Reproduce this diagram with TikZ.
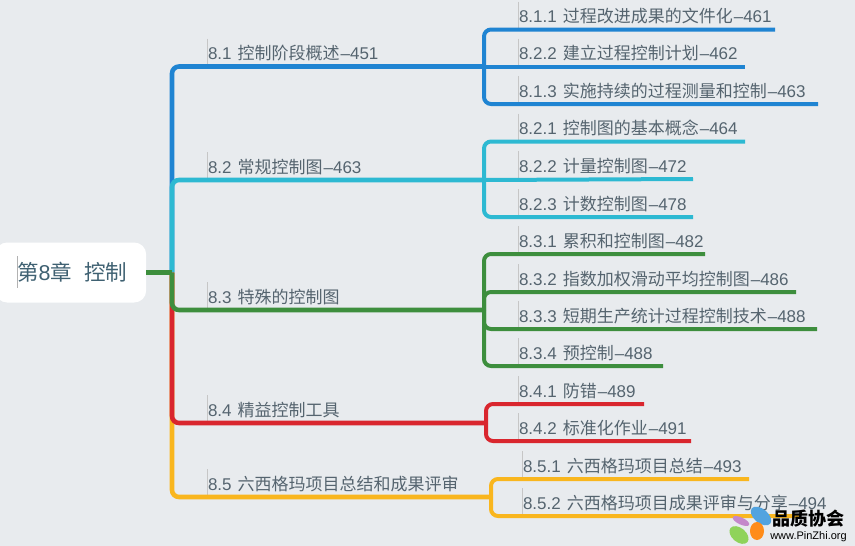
\documentclass[tikz,border=0pt]{standalone}
\usepackage{fontspec}
\setmainfont{Noto Sans CJK SC}
\newfontfamily\enf{Liberation Sans}
\newcommand{\secno}[1]{{\enf #1}\kern6pt}
\newcommand{\pg}[1]{{\enf\kern1pt–#1}}
\usepackage[dvipsnames]{xcolor}
\usetikzlibrary{positioning,calc}
\definecolor{bgc}{HTML}{E8EBEE}
\definecolor{txtc}{HTML}{55646F}
\definecolor{rootc}{HTML}{3F6172}
\definecolor{cblue}{HTML}{1F84D2}
\definecolor{ccyan}{HTML}{2DB9D2}
\definecolor{cgreen}{HTML}{3D8E3D}
\definecolor{cred}{HTML}{D9262E}
\definecolor{cyel}{HTML}{F9B61E}
\tikzset{lab/.style={anchor=south west, inner xsep=1pt, inner ysep=3pt, outer sep=0pt, text height=18pt, text depth=4pt, align=left, text=txtc, font=\fontsize{17}{18}\selectfont, append after command={(\tikzlastnode.north west) edge[draw=gray!45, line width=0.5pt] (\tikzlastnode.south west)}}}
\tikzset{rootbox/.style={anchor=west, fill=white, rounded corners=12, minimum width=151pt, minimum height=60pt, inner sep=0pt, text width=129pt, align=left, text=rootc, font=\fontsize{21.5}{24}\selectfont}}
\tikzset{arr/.style={draw, line width=4.6pt, rounded corners=7pt}}
\tikzset{arr2/.style={draw, line width=4pt, rounded corners=7pt}}
\begin{document}
\begin{tikzpicture}[x=1pt, y=-1pt]
	\clip (0,0) rectangle (855,546);
	\fill[bgc] (0,0) rectangle (855,546);
	\node[rootbox] (root) at (-5,272.5) {\hspace*{11pt}第{\enf 8}章\kern12pt控制};
	\coordinate (hub) at (172,272.5);
	% main branches
	\node[lab, text width=275pt] (n81) at (207,66.5) {\secno{8.1}控制阶段概述\pg{451}};
	\node[lab, text width=275pt] (n82) at (207,180) {\secno{8.2}常规控制图\pg{463}};
	\node[lab, text width=275pt] (n83) at (207,310) {\secno{8.3}特殊的控制图};
	\node[lab, text width=277pt] (n84) at (207,423) {\secno{8.4}精益控制工具};
	\node[lab, text width=282pt] (n85) at (207,497) {\secno{8.5}六西格玛项目总结和成果评审};
	% sub items
	\node[lab, text width=255pt] (n811) at (518,29.5) {\secno{8.1.1}过程改进成果的文件化\pg{461}};
	\node[lab, text width=225pt] (n812) at (518,66.5) {\secno{8.2.2}建立过程控制计划\pg{462}};
	\node[lab, text width=298pt] (n813) at (518,104) {\secno{8.1.3}实施持续的过程测量和控制\pg{463}};
	\node[lab, text width=225pt] (n821) at (518,141.5) {\secno{8.2.1}控制图的基本概念\pg{464}};
	\node[lab, text width=173pt] (n822) at (518,179) {\secno{8.2.2}计量控制图\pg{472}};
	\node[lab, text width=173pt] (n823) at (518,217) {\secno{8.2.3}计数控制图\pg{478}};
	\node[lab, text width=185pt] (n831) at (518,254) {\secno{8.3.1}累积和控制图\pg{482}};
	\node[lab, text width=276pt] (n832) at (518,292) {\secno{8.3.2}指数加权滑动平均控制图\pg{486}};
	\node[lab, text width=297pt] (n833) at (518,329) {\secno{8.3.3}短期生产统计过程控制技术\pg{488}};
	\node[lab, text width=143pt] (n834) at (518,366) {\secno{8.3.4}预控制\pg{488}};
	\node[lab, text width=124pt] (n841) at (518,404) {\secno{8.4.1}防错\pg{489}};
	\node[lab, text width=171pt] (n842) at (518,441) {\secno{8.4.2}标准化作业\pg{491}};
	\node[lab, text width=225pt] (n851) at (522,479) {\secno{8.5.1}六西格玛项目总结\pg{493}};
	\node[lab, text width=310pt] (n852) at (522,516) {\secno{8.5.2}六西格玛项目成果评审与分享\pg{494}};
	\coordinate (n852end) at (800,516);
	% blue
	\draw[arr, cblue] (hub) |- (n81.south east);
	\draw[arr2, cblue] (n81.south east) |- (n811.south east);
	\draw[arr2, cblue] (n81.south east) -- (n812.south east);
	\draw[arr2, cblue] (n81.south east) |- (n813.south east);
	% cyan
	\draw[arr, ccyan] (hub) |- (n82.south east);
	\draw[arr2, ccyan] (n82.south east) |- (n821.south east);
	\draw[arr2, ccyan] (n82.south east) -- (n822.south east);
	\draw[arr2, ccyan] (n82.south east) |- (n823.south east);
	% yellow
	\draw[arr, cyel] (hub) |- (n85.south east);
	\draw[arr2, cyel] (n85.south east) |- (n851.south east);
	\draw[arr2, cyel] (n85.south east) |- (n852end);
	% red
	\draw[arr, cred] (hub) |- (n84.south east);
	\draw[arr2, cred] (n84.south east) |- (n841.south east);
	\draw[arr2, cred] (n84.south east) |- (n842.south east);
	% green
	\draw[arr, cgreen] (hub) |- (n83.south east);
	\draw[cgreen, line width=5.5pt] (root.east) -- (hub);
	\draw[arr2, cgreen] (n83.south east) |- (n831.south east);
	\draw[arr2, cgreen] (n83.south east) |- (n832.south east);
	\draw[arr2, cgreen] (n83.south east) |- (n833.south east);
	\draw[arr2, cgreen] (n83.south east) |- (n834.south east);
	\draw[draw=gray!60, line width=0.5pt] ([xshift=22pt,yshift=-14pt]root.north west) -- ([xshift=22pt,yshift=15pt]root.south west);
	% logo
	\fill[Orchid!70] (741,521) ellipse [x radius=9, y radius=3.5, rotate=-25];
	\fill[cyan!70!blue!70] (761,516) ellipse [x radius=12, y radius=7, rotate=-40];
	\fill[orange!90] (757,531) ellipse [x radius=7, y radius=9];
	\fill[YellowGreen] (739,535) ellipse [x radius=11, y radius=7, rotate=-40];
	\node[inner sep=0pt, font=\fontsize{18}{20}\selectfont\bfseries] (mark) at (808.5,519) {品质协会};
	\node[inner sep=0pt, font=\enf\fontsize{11}{12}\selectfont, below=3pt of mark] (site) {www.PinZhi.org};
\end{tikzpicture}
\end{document}
